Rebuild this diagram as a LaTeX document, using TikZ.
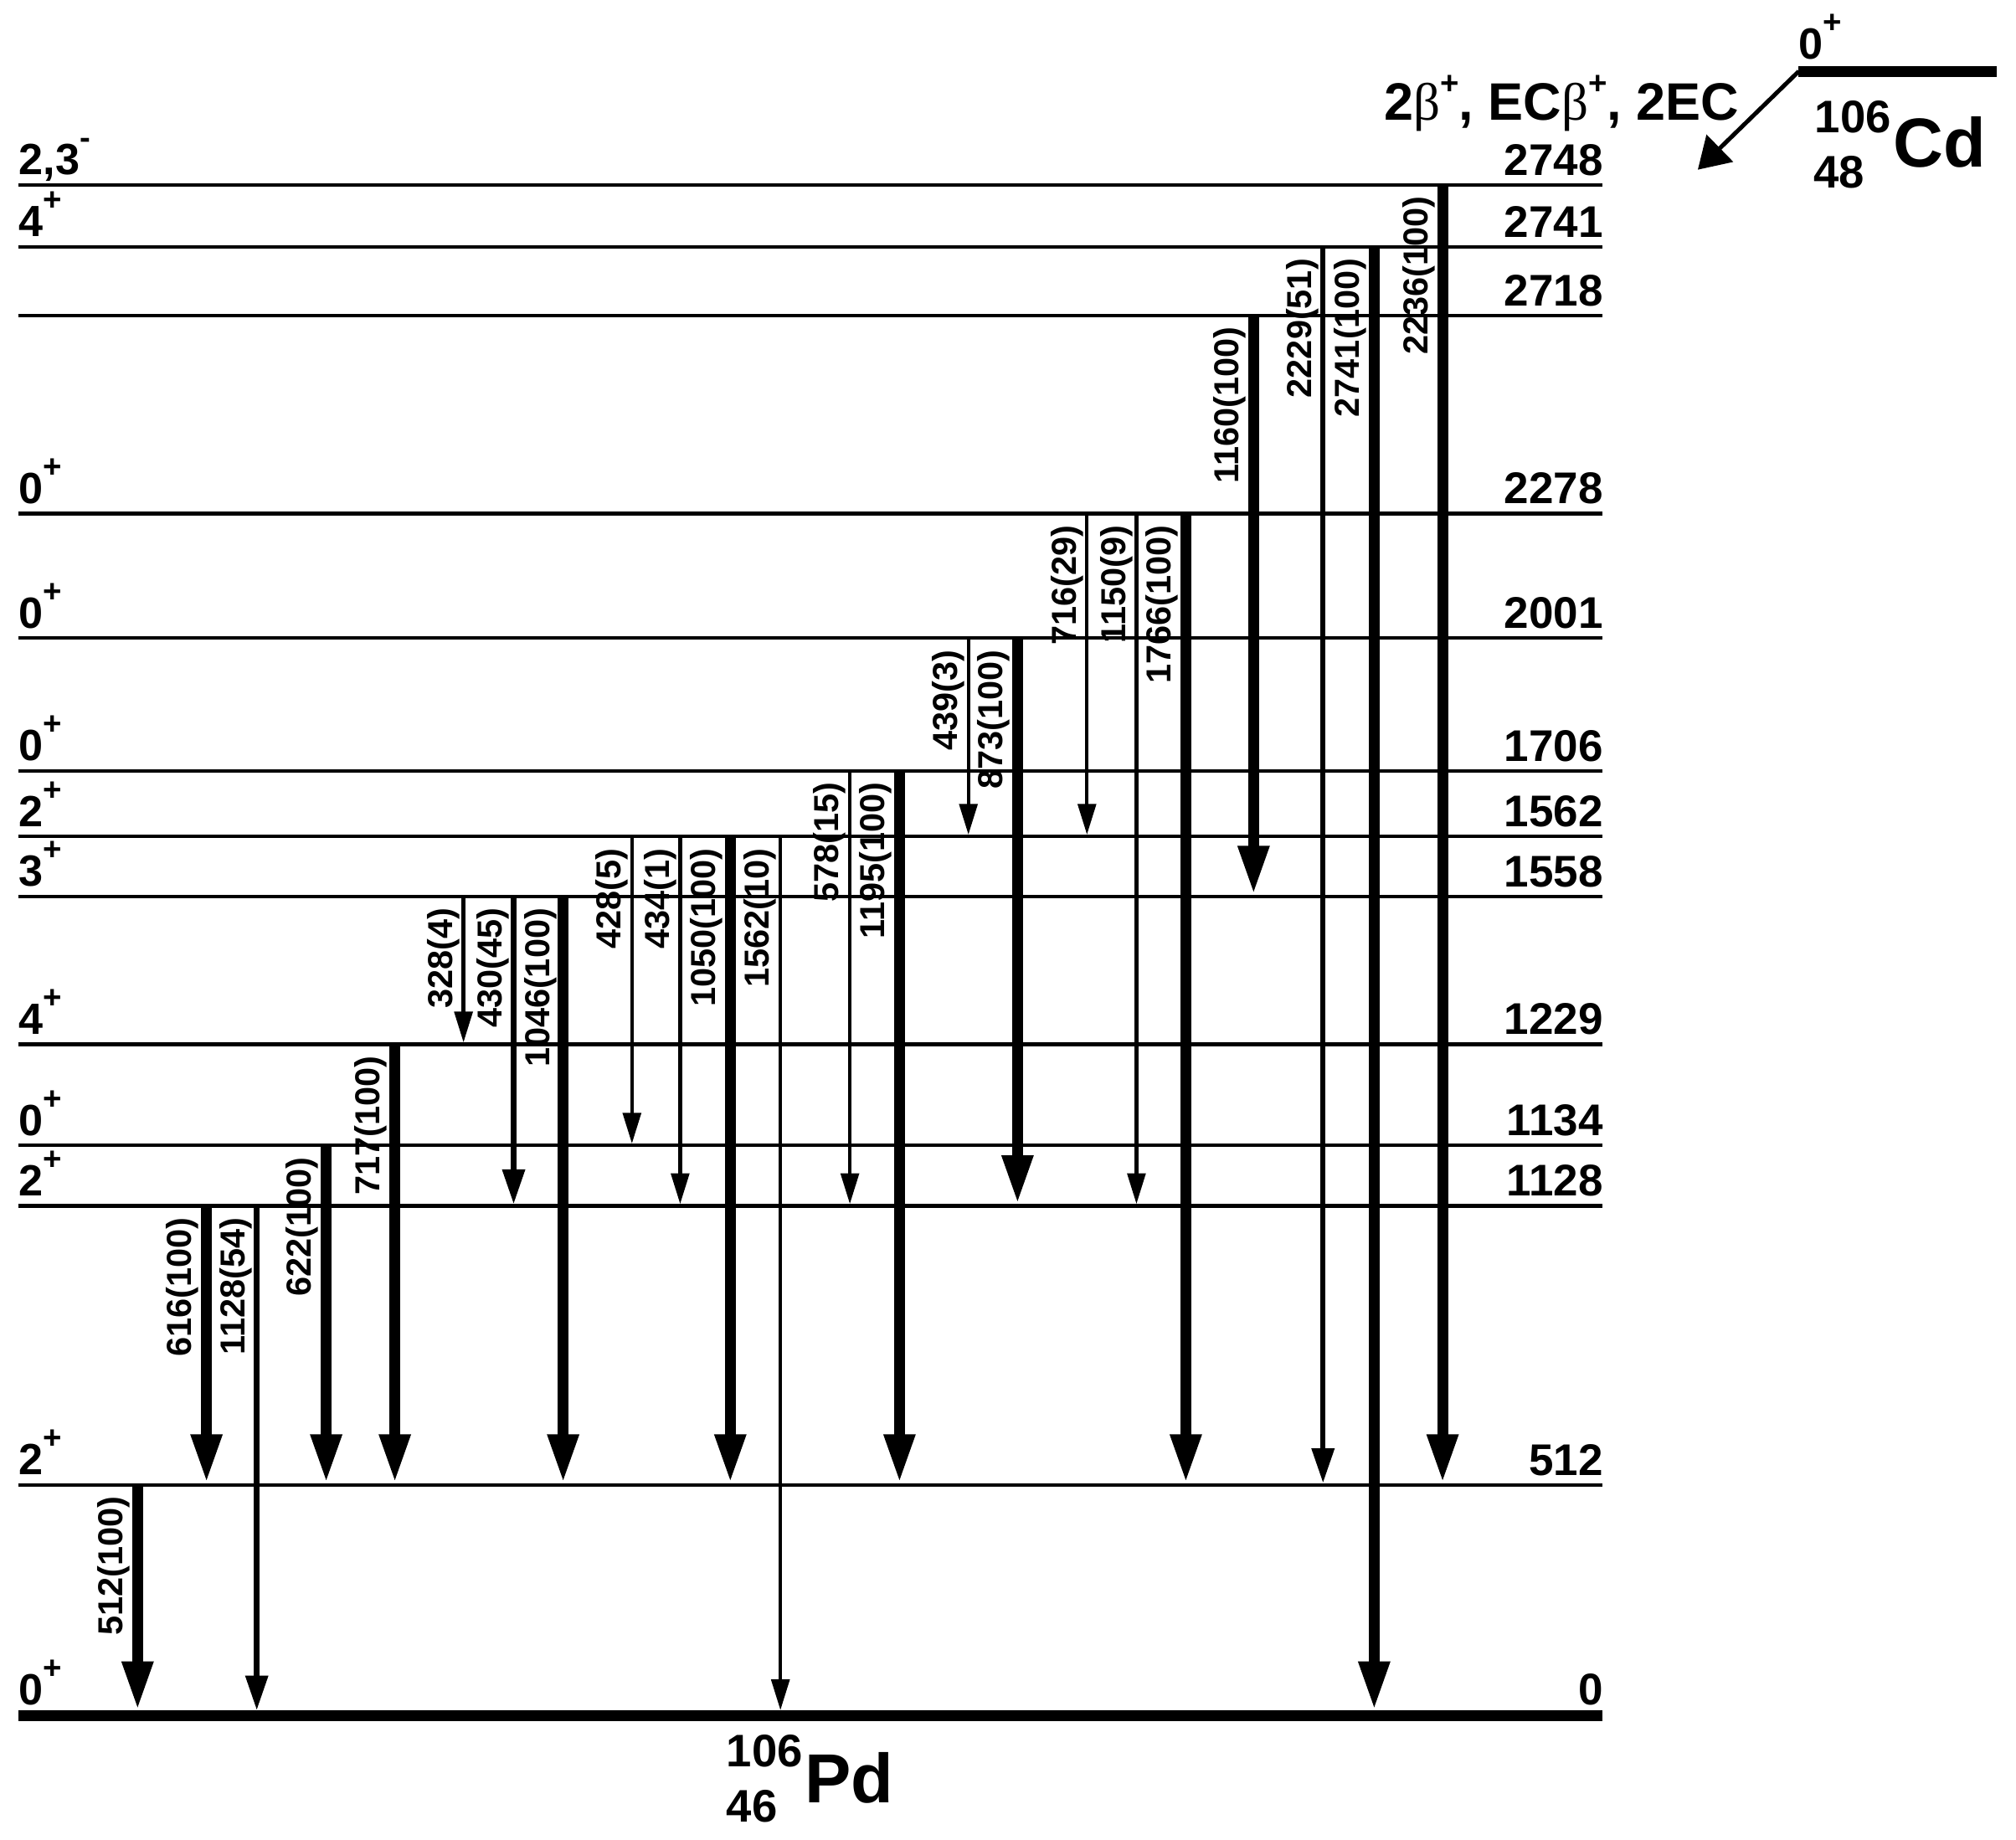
\documentclass[tikz,border=0pt]{standalone}
\usepackage{fontspec}
\setmainfont{Liberation Sans}
\newfontfamily\grk{Liberation Serif}
\usetikzlibrary{arrows.meta}
\newcommand\supx[1]{\raisebox{0.59em}{\fontsize{25}{25}\selectfont #1}}
\newcommand\tsupx[1]{\raisebox{20pt}{\fontsize{25}{25}\selectfont #1}}
\begin{document}
\begin{tikzpicture}[x=1pt,y=-1pt,
  level/.style={line width=2.8pt},
  gs/.style={line width=8.6pt},
  thinar/.style={line width=2.8pt,-{Triangle[length=24pt,width=14pt]}},
  medar/.style={line width=4.2pt,-{Triangle[length=27pt,width=17pt]}},
  thickar/.style={line width=8.4pt,-{Triangle[length=38pt,width=22.5pt]}},
  tlab/.style={rotate=90,anchor=south east,inner sep=0pt,font=\fontsize{27}{27}\selectfont\bfseries},
  elab/.style={anchor=base east,inner sep=0pt,font=\fontsize{34.5}{34.5}\selectfont\bfseries},
  slab/.style={anchor=base west,inner sep=0pt,font=\fontsize{34}{34}\selectfont\bfseries},
  iso/.style={anchor=base west,inner sep=0pt,font=\fontsize{35.5}{35.5}\selectfont\bfseries},
  elem/.style={anchor=base west,inner sep=0pt,font=\fontsize{54}{54}\selectfont\bfseries},
]
\useasboundingbox (0,0) rectangle (1568,1431);
% level macro: name, y, spin, energy
\newcommand\lev[4]{%
  \coordinate (#1l) at (14,#2);
  \coordinate (#1r) at (1246,#2);
  \draw[level] (#1l) -- (#1r);
  \node[slab] (#1s) at (14.5,#2-8) {#3};
  \node[elab] (#1e) at (1247,#2-7.5) {#4};}
% transition macro: name, x, yfrom, yto(tip), style, label, label offset
\newcommand\gam[7]{%
  \coordinate (#1t) at (#2,#3);
  \coordinate (#1b) at (#2,#4);
  \draw[#5] (#1t) -- (#1b);
  \node[tlab] (#1l) at (#2-#7,#3+9) {#6};}
% levels
\def\La{143.7}\def\Lb{192.1}\def\Lc{245.3}\def\Ld{399.4}\def\Le{496.4}
\def\Lf{599.5}\def\Lg{650.7}\def\Lh{697.3}\def\Li{812.3}\def\Lj{891}
\def\Lk{938}\def\Ll{1155}\def\Lz{1334.6}
\lev{A}{\La}{2,3\supx{-}}{2748}
\lev{B}{\Lb}{4\supx{+}}{2741}
\lev{C}{\Lc}{}{2718}
\lev{D}{\Ld}{0\supx{+}}{2278}
\lev{E}{\Le}{0\supx{+}}{2001}
\lev{F}{\Lf}{0\supx{+}}{1706}
\lev{G}{\Lg}{2\supx{+}}{1562}
\lev{H}{\Lh}{3\supx{+}}{1558}
\lev{I}{\Li}{4\supx{+}}{1229}
\lev{J}{\Lj}{0\supx{+}}{1134}
\lev{K}{\Lk}{2\supx{+}}{1128}
\lev{L}{\Ll}{2\supx{+}}{512}
% ground state
\coordinate (Zl) at (14,\Lz);
\coordinate (Zr) at (1246,\Lz);
\draw[gs] (Zl) -- (Zr);
\node[slab] (Zs) at (14.5,\Lz-8.5) {0\supx{+}};
\node[elab] (Ze) at (1247,\Lz-8.5) {0};
% transitions
\def\tl{1.4}\def\tz{4.3}
\gam{g1}{107}{\Ll}{\Lz-\tz}{thickar}{512(100)}{5.8}
\gam{g2}{160.6}{\Lk}{\Ll-\tl}{thickar}{616(100)}{5.8}
\gam{g3}{199.7}{\Lk}{\Lz-\tz}{medar}{1128(54)}{3.3}
\gam{g4}{253.7}{\Lj}{\Ll-\tl}{thickar}{622(100)}{5.8}
\gam{g5}{307.1}{\Li}{\Ll-\tl}{thickar}{717(100)}{5.8}
\gam{g6}{360.5}{\Lh}{\Li-\tl}{thinar}{328(4)}{2.8}
\gam{g7}{399.5}{\Lh}{\Lk-\tl}{medar}{430(45)}{3.3}
\gam{g8}{438}{\Lh}{\Ll-\tl}{thickar}{1046(100)}{5}
\gam{g9}{491.5}{\Lg}{\Lj-\tl}{thinar}{428(5)}{2.8}
\gam{g10}{529}{\Lg}{\Lk-\tl}{thinar}{434(1)}{2.8}
\gam{g11}{568}{\Lg}{\Ll-\tl}{thickar}{1050(100)}{5.8}
\gam{g12}{607}{\Lg}{\Lz-\tz}{thinar}{1562(10)}{2.8}
\gam{g13}{661}{\Lf}{\Lk-\tl}{thinar}{578(15)}{2.8}
\gam{g14}{699.6}{\Lf}{\Ll-\tl}{thickar}{1195(100)}{5.8}
\gam{g15}{753.2}{\Le}{\Lg-\tl}{thinar}{439(3)}{2.8}
\gam{g16}{791.4}{\Le}{\Lk-\tl}{thickar}{873(100)}{5.8}
\gam{g17}{845.4}{\Ld}{\Lg-\tl}{thinar}{716(29)}{2.8}
\gam{g18}{883.9}{\Ld}{\Lk-\tl}{thinar}{1150(9)}{2.8}
\gam{g19}{922.3}{\Ld}{\Ll-\tl}{thickar}{1766(100)}{5.8}
\gam{g20}{975}{\Lc}{\Lh-\tl}{thickar}{1160(100)}{5.8}
\gam{g21}{1029}{\Lb}{\Ll-\tl}{medar}{2229(51)}{3.3}
\gam{g22}{1068.8}{\Lb}{\Lz-\tz}{thickar}{2741(100)}{5.8}
\gam{g23}{1122}{\La}{\Ll-\tl}{thickar}{2236(100)}{5.8}
% parent nucleus
\coordinate (Cdl) at (1399,55.5);
\coordinate (Cdr) at (1553,55.5);
\draw[gs] (Cdl) -- (Cdr);
\node[slab] (Cds) at (1398.6,46) {0\supx{+}};
\coordinate (dtip) at (1320.5,132);
\draw[line width=3.3pt,-{Triangle[length=24pt,width=29pt]}] (Cdl) -- (dtip);
\node[anchor=base west,inner sep=0pt,font=\fontsize{41}{41}\selectfont\bfseries] (mode) at (1076.4,93.3)
  {2{\grk\mdseries β}\tsupx{+}, EC{\grk\mdseries β}\tsupx{+}, 2EC};
\node[iso] (CdA) at (1411.5,103) {106};
\node[iso] (CdZ) at (1410.5,146) {48};
\node[elem] (CdX) at (1472.5,130) {Cd};
% daughter nucleus
\node[iso] (PdA) at (565,1374) {106};
\node[iso] (PdZ) at (565,1417.5) {46};
\node[elem] (PdX) at (626,1402) {Pd};
\end{tikzpicture}
\end{document}
